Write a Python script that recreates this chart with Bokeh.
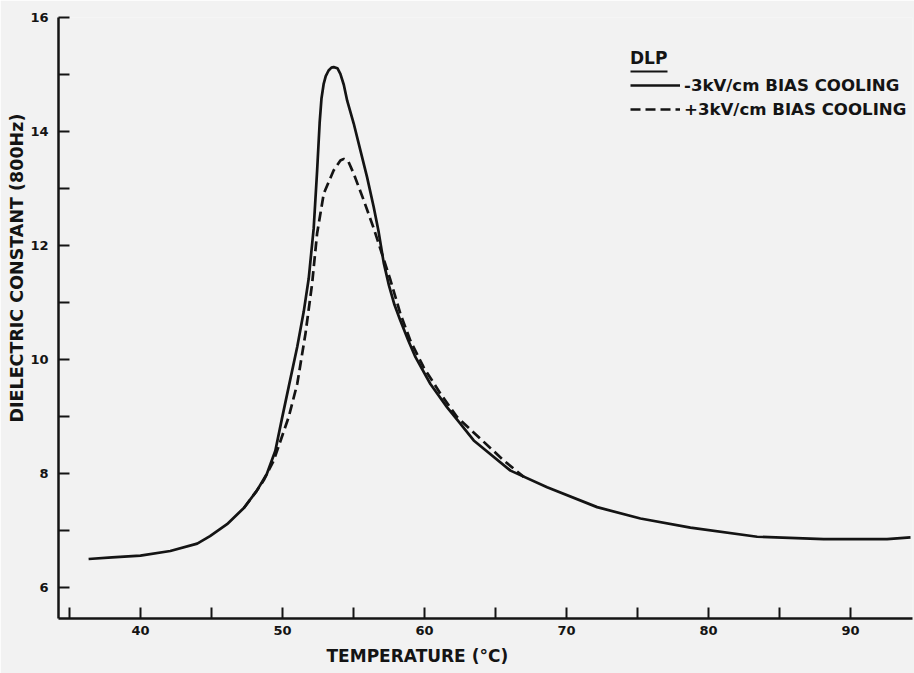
from bokeh.plotting import figure
from bokeh.models import FixedTicker, Range1d, Legend, LegendItem, Title, BoxAnnotation
from bokeh.embed import file_html
from bokeh.resources import INLINE

# ---- data ----
# -3 kV/cm bias cooling (solid)
temp_neg = [36.35, 38.0, 40.0, 42.1, 44.0, 44.9, 46.1, 47.3, 48.2, 48.9, 49.5, 49.98,
            50.44, 51.04, 51.5, 51.85, 52.2, 52.44, 52.62, 52.75, 52.9, 53.05, 53.25,
            53.45, 53.61, 53.87, 54.08, 54.32, 54.56, 55.02, 55.49, 55.96, 56.43, 56.76,
            57.13, 57.5, 57.89, 58.31, 58.87, 59.37, 60.42, 61.6, 62.54, 63.47, 66.06,
            68.64, 72.16, 75.21, 78.73, 83.43, 88.12, 92.58, 94.23]
eps_neg = [6.50, 6.53, 6.56, 6.64, 6.77, 6.90, 7.11, 7.40, 7.70, 7.99, 8.40, 8.98,
           9.52, 10.22, 10.84, 11.42, 12.30, 13.30, 14.15, 14.58, 14.83, 14.97, 15.07,
           15.12, 15.13, 15.11, 15.01, 14.82, 14.54, 14.14, 13.67, 13.20, 12.67, 12.26,
           11.70, 11.30, 10.96, 10.68, 10.33, 10.04, 9.57, 9.16, 8.87, 8.58, 8.05,
           7.76, 7.41, 7.21, 7.05, 6.89, 6.85, 6.85, 6.88]

# +3 kV/cm bias cooling (dashed)
temp_pos = [47.3, 48.2, 48.68, 49.39, 50.44, 51.04, 51.62, 52.09, 52.44, 52.91,
            53.61, 54.08, 54.32, 54.65, 55.02, 55.73, 56.43, 56.78, 57.61, 58.31, 59.01,
            59.95, 61.13, 62.3, 63.94, 65.58, 66.99]
eps_pos = [7.40, 7.70, 7.88, 8.23, 8.99, 9.57, 10.45, 11.33, 12.21, 12.91,
           13.32, 13.49, 13.52, 13.47, 13.26, 12.79, 12.30, 12.03, 11.39, 10.80, 10.33,
           9.86, 9.40, 8.99, 8.61, 8.23, 7.94]

x_ticks = [40, 50, 60, 70, 80, 90]
x_minor = [35, 45, 55, 65, 75, 85]
y_ticks = [6, 8, 10, 12, 14, 16]
y_minor = [7, 9, 11, 13, 15]

legend_title = "DLP"
series_labels = ["-3kV/cm BIAS COOLING", "+3kV/cm BIAS COOLING"]
x_title = "TEMPERATURE (°C)"
y_title = "DIELECTRIC CONSTANT (800Hz)"

BG = "#f2f2f2"
INK = "#141414"
FONT = "DejaVu Sans"

p = figure(width=914, height=673,
           x_range=Range1d(34.23, 94.37), y_range=Range1d(5.456, 16.0),
           output_backend="svg", toolbar_location=None,
           min_border_left=58, min_border_right=2, min_border_top=17, min_border_bottom=55,
           background_fill_color=BG, border_fill_color=BG, outline_line_color=None)
p.grid.visible = False

for ax in (p.xaxis[0], p.yaxis[0]):
    ax.axis_line_width = 2.5
    ax.axis_line_color = INK
    ax.major_tick_in = 11
    ax.major_tick_out = 0
    ax.minor_tick_in = 11
    ax.minor_tick_out = 0
    ax.major_tick_line_width = 2
    ax.minor_tick_line_width = 2
    ax.major_tick_line_color = INK
    ax.minor_tick_line_color = INK
    ax.major_label_text_font = FONT
    ax.major_label_text_font_size = "13px"
    ax.major_label_text_font_style = "bold"
    ax.major_label_text_color = INK

p.xaxis.ticker = FixedTicker(ticks=x_ticks, minor_ticks=x_minor)
p.yaxis.ticker = FixedTicker(ticks=y_ticks, minor_ticks=y_minor)
p.xaxis.major_label_standoff = 7
p.yaxis.major_label_standoff = 10

p.add_layout(Title(text=x_title, align="left", offset=268, standoff=13,
                   text_font=FONT, text_font_size="17px", text_font_style="bold",
                   text_color=INK), "below")
p.add_layout(Title(text=y_title, align="left", offset=196, standoff=1,
                   text_font=FONT, text_font_size="17.5px", text_font_style="bold",
                   text_color=INK), "left")

r1 = p.line(temp_neg, eps_neg, line_width=2.7, line_color=INK)
r2 = p.line(temp_pos, eps_pos, line_width=2.7, line_color=INK, line_dash="10 5")

legend = Legend(items=[LegendItem(label=series_labels[0], renderers=[r1]),
                       LegendItem(label=series_labels[1], renderers=[r2])],
                title=legend_title, location=(572, 497),
                background_fill_alpha=0, border_line_color=None,
                glyph_width=50, glyph_height=24, label_height=24, label_standoff=4,
                spacing=0, padding=0, margin=0,
                label_text_font=FONT, label_text_font_size="16.6px",
                label_text_font_style="bold", label_text_color=INK,
                title_text_font=FONT, title_text_font_size="17px",
                title_text_font_style="bold", title_text_color=INK, title_standoff=5)
p.add_layout(legend)

p.add_layout(BoxAnnotation(left=572, right=609, top=548, bottom=546,
                           left_units="screen", right_units="screen",
                           top_units="screen", bottom_units="screen",
                           fill_color=INK, fill_alpha=1, line_color=None))

open("out.html", "w").write(file_html(p, INLINE))
